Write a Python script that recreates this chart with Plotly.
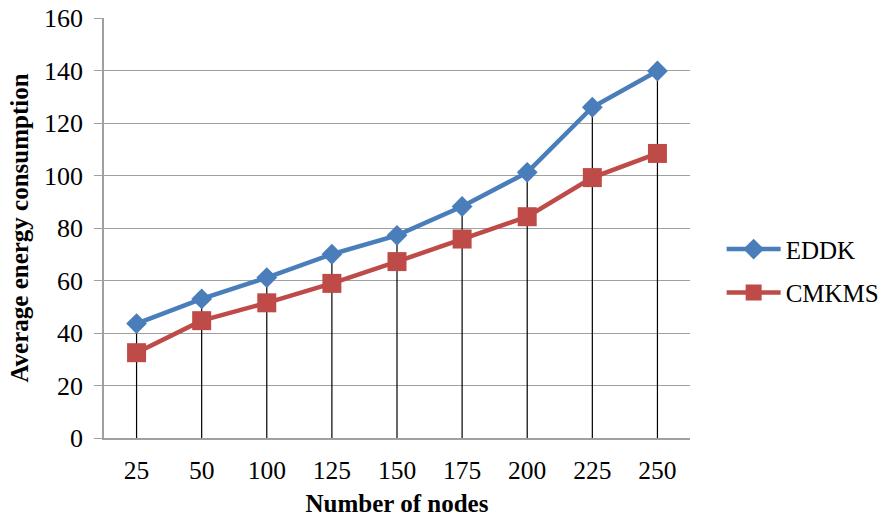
import plotly.graph_objects as go

categories = ["25", "50", "100", "125", "150", "175", "200", "225", "250"]
eddk = [43.6, 53.0, 61.1, 70.0, 77.2, 88.2, 101.2, 126.0, 139.8]
cmkms = [32.5, 44.7, 51.5, 58.9, 67.2, 75.8, 84.3, 99.2, 108.4]
y_ticks = [0, 20, 40, 60, 80, 100, 120, 140, 160]

FONT = "Liberation Serif"

# drop lines from the highest point of each category to the axis
drop_x, drop_y = [], []
for c, a, b in zip(categories, eddk, cmkms):
    drop_x += [c, c, None]
    drop_y += [0, max(a, b), None]

fig = go.Figure()
fig.add_trace(go.Scatter(x=drop_x, y=drop_y, mode="lines",
                         line=dict(color="#000000", width=1.2),
                         showlegend=False, hoverinfo="skip"))
fig.add_trace(go.Scatter(x=categories, y=eddk, name="EDDK", mode="lines+markers",
                         legendgroup="a",
                         line=dict(color="#4A7EBB", width=4.5),
                         marker=dict(symbol="diamond", size=16, color="#4A7EBB")))
fig.add_trace(go.Scatter(x=categories, y=cmkms, name="CMKMS", mode="lines+markers",
                         legendgroup="b",
                         line=dict(color="#BE4B48", width=4.5),
                         marker=dict(symbol="square", size=19, color="#BE4B48")))

fig.update_layout(
    width=883, height=517,
    margin=dict(l=104, r=193, t=18, b=79, autoexpand=False),
    paper_bgcolor="white", plot_bgcolor="white",
    font=dict(family=FONT, size=25, color="#000000"),
    showlegend=True,
    legend=dict(x=1.054, y=0.398, xanchor="left", yanchor="middle",
                font=dict(family=FONT, size=25, color="#000000"),
                itemwidth=54, traceorder="grouped", tracegroupgap=8,
                bgcolor="rgba(0,0,0,0)"),
    xaxis=dict(type="category", categoryorder="array", categoryarray=categories,
               showgrid=False, showline=True, linecolor="#A0A0A0", linewidth=1.5,
               ticks="", tickfont=dict(family=FONT, size=25.5, color="#000000"),
               ticklabelstandoff=9,
               title=dict(text="<b>Number of nodes</b>",
                          font=dict(family=FONT, size=25), standoff=19),
               range=[-0.5, len(categories) - 0.5], zeroline=False, automargin=False),
    yaxis=dict(range=[0, 160], tickvals=y_ticks, ticktext=[str(v) for v in y_ticks],
               showgrid=True, gridcolor="#A0A0A0", gridwidth=1.3,
               showline=True, linecolor="#A0A0A0", linewidth=1.5,
               ticks="outside", ticklen=8, tickcolor="#A0A0A0", tickwidth=1.3,
               tickfont=dict(family=FONT, size=26, color="#000000"),
               ticklabelstandoff=6,
               title=dict(text="<b>Average energy consumption</b>",
                          font=dict(family=FONT, size=25), standoff=8),
               zeroline=False, automargin=False),
)

fig.write_html("out.html", config={"displayModeBar": False},
               post_script="document.body.style.margin='0';")
